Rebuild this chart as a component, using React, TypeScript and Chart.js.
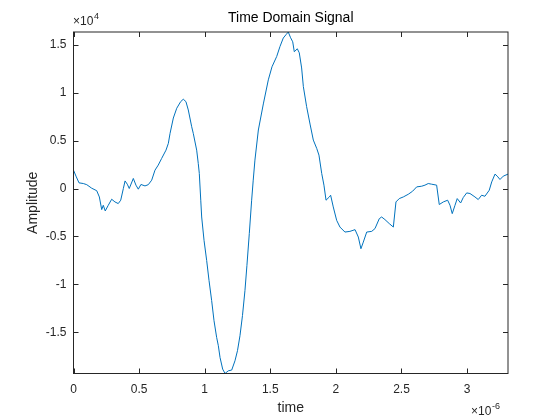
import React, { useEffect, useRef } from "react";
import { Chart, registerables } from "chart.js";

Chart.register(...registerables);

// time in units of 1e-6 s
const timeMicro = [
  0, 0.019, 0.042, 0.075, 0.101, 0.139, 0.177, 0.197, 0.215, 0.227, 0.242, 0.265, 0.291, 0.316, 0.341, 0.36,
  0.38, 0.393, 0.41, 0.425, 0.456, 0.476, 0.494, 0.514, 0.545, 0.57, 0.596, 0.621, 0.646, 0.672, 0.705, 0.723,
  0.736, 0.761, 0.787, 0.817, 0.837, 0.857, 0.875, 0.901, 0.913, 0.939, 0.951, 0.959, 0.97, 0.977, 0.995, 1.015,
  1.033, 1.053, 1.071, 1.091, 1.104, 1.117, 1.137, 1.155, 1.18, 1.206, 1.231, 1.25, 1.269, 1.288, 1.307, 1.322,
  1.34, 1.358, 1.37, 1.383, 1.409, 1.447, 1.485, 1.513, 1.549, 1.574, 1.599, 1.62, 1.637, 1.655, 1.671, 1.683,
  1.706, 1.721, 1.739, 1.752, 1.777, 1.803, 1.828, 1.854, 1.871, 1.892, 1.909, 1.925, 1.95, 1.96, 1.98, 2.006,
  2.031, 2.069, 2.107, 2.146, 2.171, 2.191, 2.209, 2.235, 2.273, 2.298, 2.331, 2.349, 2.374, 2.407, 2.438, 2.458,
  2.483, 2.514, 2.552, 2.585, 2.616, 2.654, 2.679, 2.704, 2.73, 2.768, 2.788, 2.819, 2.852, 2.87, 2.887, 2.908,
  2.925, 2.951, 2.971, 2.997, 3.022, 3.06, 3.085, 3.111, 3.136, 3.169, 3.188, 3.213, 3.23, 3.251, 3.276, 3.312,
];

// amplitude in units of 1e4
const amplitude = [
  0.191, 0.129, 0.059, 0.052, 0.04, 0.003, -0.023, -0.088, -0.22, -0.175, -0.234, -0.175, -0.112, -0.14, -0.157, -0.122,
  0, 0.079, 0.045, 0, 0.105, 0.035, -0.007, 0.042, 0.027, 0.04, 0.087, 0.191, 0.244, 0.314, 0.4, 0.471,
  0.575, 0.735, 0.837, 0.906, 0.931, 0.906, 0.819, 0.644, 0.575, 0.4, 0.262, 0.157, -0.122, -0.297, -0.541, -0.75,
  -0.959, -1.168, -1.378, -1.552, -1.639, -1.762, -1.883, -1.929, -1.901, -1.893, -1.796, -1.691, -1.535, -1.325, -1.064, -0.802,
  -0.471, -0.122, 0.087, 0.296, 0.61, 0.882, 1.133, 1.269, 1.377, 1.481, 1.569, 1.604, 1.632, 1.572, 1.53, 1.426,
  1.457, 1.415, 1.257, 1.063, 0.854, 0.672, 0.505, 0.418, 0.348, 0.157, 0.035, -0.122, -0.088, -0.07, -0.192, -0.332,
  -0.402, -0.454, -0.447, -0.429, -0.506, -0.628, -0.559, -0.454, -0.447, -0.418, -0.314, -0.297, -0.324, -0.366, -0.402, -0.14,
  -0.105, -0.088, -0.06, -0.028, 0.017, 0.024, 0.035, 0.052, 0.045, 0.035, -0.167, -0.14, -0.122, -0.175, -0.262, -0.175,
  -0.105, -0.151, -0.094, -0.046, -0.052, -0.088, -0.115, -0.07, -0.081, -0.018, 0.069, 0.15, 0.129, 0.094, 0.129, 0.15,
];

const xTicks = [0, 0.5, 1, 1.5, 2, 2.5, 3];
const yTicks = [-1.5, -1, -0.5, 0, 0.5, 1, 1.5];

const titleText = "Time Domain Signal";
const xLabel = "time";
const yLabel = "Amplitude";

const FONT = "'Liberation Sans', Arial, sans-serif";
const AXIS_COLOR = "#262626";

const decorPlugin = {
  id: "decor",
  beforeDraw(chart: any) {
    const ctx = chart.ctx;
    ctx.save();
    ctx.fillStyle = "#ffffff";
    ctx.fillRect(0, 0, chart.width, chart.height);
    ctx.restore();
  },
  afterDraw(chart: any) {
    const ctx = chart.ctx;
    const { left, right, top, bottom } = chart.chartArea;
    const xs = chart.scales.x;
    const ys = chart.scales.y;
    ctx.save();
    ctx.strokeStyle = AXIS_COLOR;
    ctx.lineWidth = 1;
    ctx.strokeRect(left, top, right - left, bottom - top);
    const tl = 5;
    ctx.beginPath();
    for (const t of xTicks) {
      const px = Math.round(xs.getPixelForValue(t)) + 0.5;
      ctx.moveTo(px, bottom);
      ctx.lineTo(px, bottom - tl);
      ctx.moveTo(px, top);
      ctx.lineTo(px, top + tl);
    }
    for (const t of yTicks) {
      const py = Math.round(ys.getPixelForValue(t)) + 0.5;
      ctx.moveTo(left, py);
      ctx.lineTo(left + tl, py);
      ctx.moveTo(right, py);
      ctx.lineTo(right - tl, py);
    }
    ctx.stroke();

    ctx.fillStyle = "#000000";
    ctx.font = `14px ${FONT}`;
    ctx.textAlign = "center";
    ctx.textBaseline = "middle";
    ctx.fillText(titleText, (left + right) / 2, 18);

    ctx.fillStyle = AXIS_COLOR;
    ctx.fillText(xLabel, (left + right) / 2, 408);

    ctx.save();
    ctx.translate(33, (top + bottom) / 2);
    ctx.rotate(-Math.PI / 2);
    ctx.fillText(yLabel, 0, 0);
    ctx.restore();

    // exponent labels
    ctx.textAlign = "left";
    ctx.textBaseline = "alphabetic";
    ctx.font = `12px ${FONT}`;
    ctx.fillText("\u00d710", 73, 25);
    ctx.font = `9px ${FONT}`;
    ctx.fillText("4", 94, 19);

    ctx.font = `12px ${FONT}`;
    ctx.fillText("\u00d710", 471, 415);
    ctx.font = `9px ${FONT}`;
    ctx.fillText("-6", 492, 409);
    ctx.restore();
  },
};

export default function App() {
  const ref = useRef<HTMLCanvasElement | null>(null);
  useEffect(() => {
    if (!ref.current) return;
    const chart = new Chart(ref.current, {
      type: "line",
      data: {
        datasets: [
          {
            data: timeMicro.map((t, i) => ({ x: t, y: amplitude[i] })),
            borderColor: "#0072BD",
            borderWidth: 1,
            pointRadius: 0,
            fill: false,
            tension: 0,
          },
        ],
      },
      options: {
        animation: false,
        responsive: false,
        devicePixelRatio: 1,
        layout: { padding: { left: 0, top: 32, right: 52, bottom: 0 } },
        plugins: { legend: { display: false }, tooltip: { enabled: false }, title: { display: false } },
        scales: {
          x: {
            type: "linear",
            min: 0,
            max: 3.312,
            grid: { display: false, drawTicks: false },
            border: { display: false },
            afterBuildTicks: (s: any) => {
              s.ticks = xTicks.map((v) => ({ value: v }));
            },
            afterFit: (s: any) => {
              s.height = 46.5;
            },
            ticks: {
              autoSkip: false,
              maxRotation: 0,
              padding: 9,
              color: AXIS_COLOR,
              font: { family: FONT, size: 12 },
              callback: (v: any) => String(v),
            },
          },
          y: {
            type: "linear",
            min: -1.929,
            max: 1.632,
            grid: { display: false, drawTicks: false },
            border: { display: false },
            afterBuildTicks: (s: any) => {
              s.ticks = yTicks.map((v) => ({ value: v }));
            },
            afterFit: (s: any) => {
              s.width = 73.5;
            },
            ticks: {
              autoSkip: false,
              padding: 7,
              color: AXIS_COLOR,
              font: { family: FONT, size: 12 },
              callback: (v: any) => String(v),
            },
          },
        },
      },
      plugins: [decorPlugin],
    });
    return () => chart.destroy();
  }, []);
  return (
    <div style={{ position: "fixed", left: 0, top: 0, width: 560, height: 420, background: "#fff" }}>
      <canvas ref={ref} width={560} height={420} style={{ width: 560, height: 420 }} />
    </div>
  );
}
